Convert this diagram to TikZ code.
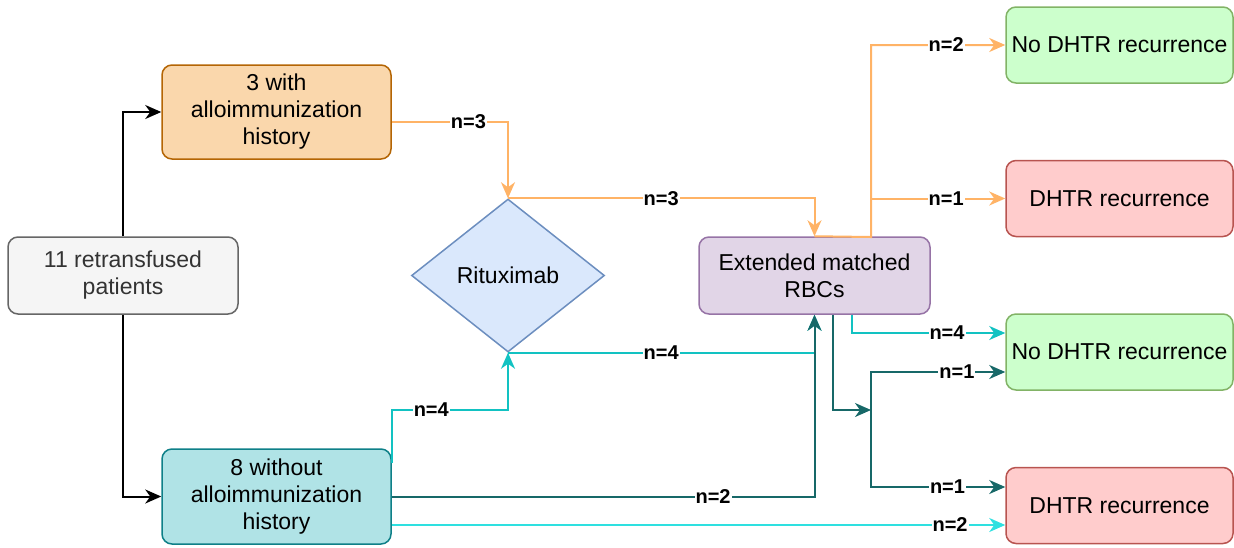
\documentclass[tikz,border=0pt]{standalone}
\usepackage{fontspec}
\setmainfont{Liberation Sans}
\usepackage{xcolor}
\usetikzlibrary{positioning, shapes.geometric, arrows.meta}

\definecolor{grayfill}{HTML}{F5F5F5}
\definecolor{grayline}{HTML}{666666}
\definecolor{orangefill}{HTML}{FAD7AC}
\definecolor{orangeline}{HTML}{B46504}
\definecolor{tealfill}{HTML}{B0E3E6}
\definecolor{tealline}{HTML}{0E8088}
\definecolor{bluefill}{HTML}{DAE8FC}
\definecolor{blueline}{HTML}{6C8EBF}
\definecolor{purplefill}{HTML}{E1D5E7}
\definecolor{purpleline}{HTML}{9673A6}
\definecolor{greenfill}{HTML}{CCFFCC}
\definecolor{greenline}{HTML}{82B366}
\definecolor{redfill}{HTML}{FFCCCC}
\definecolor{redline}{HTML}{B85450}
\definecolor{orangeflow}{HTML}{FFB366}
\definecolor{cyanflow}{HTML}{12C2C2}
\definecolor{brightflow}{HTML}{2EE0E0}
\definecolor{darkflow}{HTML}{176868}

\begin{document}
\begin{tikzpicture}[
    x=1pt, y=-1pt,
    box/.style={draw, rectangle, rounded corners=10pt, line width=1.5pt,
        align=center, font=\fontsize{23}{27}\selectfont, inner sep=2pt},
    outcome/.style={box, minimum width=227pt, minimum height=76pt},
    flow/.style={line width=2pt, -{Stealth[length=16pt, width=14pt, inset=5pt]}},
    lbl/.style={fill=white, inner sep=1pt, font=\fontsize{20}{22}\selectfont\bfseries, text=black}
]
\useasboundingbox (0,0) rectangle (1234,547);

% patient groups
\node[box, fill=grayfill, draw=grayline, text=black!80, minimum width=230pt, minimum height=77pt]
    (patients) at (123,275.5) {11 retransfused\\patients};
\node[box, fill=orangefill, draw=orangeline, minimum width=229pt, minimum height=94pt]
    (allo) at (276.5,112) {3 with\\alloimmunization\\history};
\node[box, fill=tealfill, draw=tealline, minimum width=229pt, minimum height=95pt]
    (noallo) at (276.5,496.5) {8 without\\alloimmunization\\history};

% treatments
\node[diamond, draw=blueline, fill=bluefill, line width=1.5pt, aspect=1.26,
    minimum width=193pt, minimum height=153pt, inner sep=0pt,
    font=\fontsize{23}{27}\selectfont] (ritux) at (508,275.5) {Rituximab};
\node[box, fill=purplefill, draw=purpleline, minimum width=231pt, minimum height=77pt]
    (rbc) at (814.5,275.5) {Extended matched\\RBCs};

% outcomes
\node[outcome, fill=greenfill, draw=greenline] (noRecA) at (1119.5,45) {No DHTR recurrence};
\node[outcome, fill=redfill, draw=redline] (recA) at (1119.5,198.5) {DHTR recurrence};
\node[outcome, fill=greenfill, draw=greenline] (noRecB) at (1119.5,352) {No DHTR recurrence};
\node[outcome, fill=redfill, draw=redline] (recB) at (1119.5,505.5) {DHTR recurrence};

% branch points
\coordinate (alloJoin) at (508,410);
\coordinate (orangeSplit) at (871,237);
\coordinate (darkSplit) at (871,410);

% split of the cohort
\draw[flow, black] (patients.north) |- (allo.west);
\draw[flow, black] (patients.south) |- (noallo.west);

% alloimmunized
\draw[flow, orangeflow] ([yshift=-10pt]allo.east) -| node[lbl, pos=0.33] {n=3} (ritux.north);
\draw[flow, orangeflow] (ritux.north) -| node[lbl, pos=0.25] {n=3} (rbc.north);
\draw[flow, orangeflow] (rbc.north) -- (orangeSplit) |- node[lbl, pos=0.78] {n=2} (noRecA.west);
\draw[flow, orangeflow] (orangeSplit) |- node[lbl, pos=0.78] {n=1} (recA.west);

% non alloimmunized
\draw[flow, cyanflow] ([yshift=-15pt]noallo.north east) |- node[lbl, pos=0.67] {n=4} (alloJoin) -- (ritux.south);
\draw[flow, cyanflow] (ritux.south) -| node[lbl, pos=0.25] {n=4} (rbc.south);
\draw[flow, darkflow] (noallo.east) -| node[lbl, pos=0.38] {n=2} (rbc.south);
\draw[flow, brightflow] ([yshift=-28.5pt]noallo.east) -- node[lbl, pos=0.91] {n=2} ([yshift=-19.5pt]recB.west);
\draw[flow, cyanflow] ([xshift=37.5pt]rbc.south) |- node[lbl, pos=0.81] {n=4} ([yshift=19pt]noRecB.west);
\draw[flow, darkflow] ([xshift=18.5pt]rbc.south) |- (darkSplit);
\draw[flow, darkflow] (darkSplit) |- node[lbl, pos=0.82] {n=1} ([yshift=-20pt]noRecB.west);
\draw[flow, darkflow] (darkSplit) |- node[lbl, pos=0.785] {n=1} ([yshift=18.5pt]recB.west);
\end{tikzpicture}
\end{document}
